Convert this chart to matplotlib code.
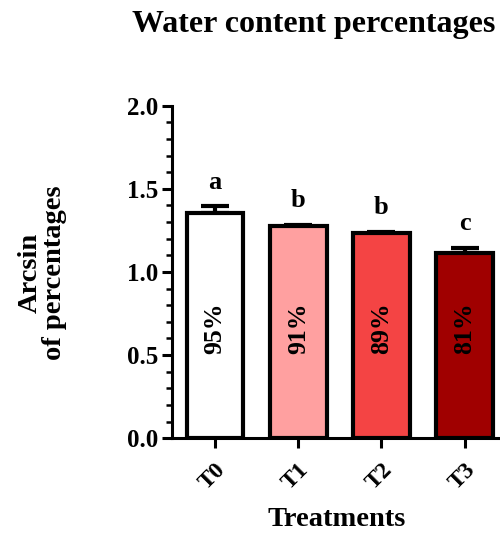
import matplotlib
matplotlib.use("Agg")
import matplotlib.pyplot as plt
from matplotlib.ticker import MultipleLocator, FormatStrFormatter

# values
treatments = ["T0", "T1", "T2", "T3"]
arcsin_means = [1.352, 1.276, 1.232, 1.117]
arcsin_err = [0.044, 0.009, 0.009, 0.030]
pct_labels = ["95%", "91%", "89%", "81%"]
sig_letters = ["a", "b", "b", "c"]
bar_colors = ["#FFFFFF", "#FFA0A0", "#F44444", "#A00000"]

plt.rcParams["font.family"] = ["Liberation Serif", "DejaVu Serif"]
plt.rcParams["font.weight"] = "bold"

fig = plt.figure(figsize=(5.0, 5.35), dpi=100)
ax = fig.add_axes([0.344, 0.181, 0.66, 0.6213])

x = list(range(len(treatments)))
ax.bar(x, arcsin_means, width=0.68, color=bar_colors, edgecolor="black",
       linewidth=3, zorder=2)
ax.errorbar(x, arcsin_means, yerr=[[0] * 4, arcsin_err], fmt="none",
            ecolor="black", elinewidth=3, capsize=10, capthick=3, zorder=1)

for xi, m, e, letter, pct in zip(x, arcsin_means, arcsin_err, sig_letters, pct_labels):
    ax.text(xi, m + e + 0.075, letter, ha="center", va="bottom",
            fontsize=19, fontweight="bold")
    ax.text(xi, 0.66, pct, ha="center", va="center", rotation=90,
            fontsize=18.5, fontweight="bold")

ax.set_xlim(-0.52, 3.45)
ax.set_ylim(0, 2.0)
ax.yaxis.set_major_locator(MultipleLocator(0.5))
ax.yaxis.set_minor_locator(MultipleLocator(0.1))
ax.yaxis.set_major_formatter(FormatStrFormatter("%.1f"))
ax.set_xticks(x)
ax.set_xticklabels(treatments, rotation=45, ha="right", va="top",
                   rotation_mode="anchor", fontsize=17, fontweight="bold")
for lbl in ax.get_yticklabels():
    lbl.set_fontsize(18)
    lbl.set_fontweight("bold")

for side in ["top", "right"]:
    ax.spines[side].set_visible(False)
for side in ["left", "bottom"]:
    ax.spines[side].set_linewidth(2.2)
ax.tick_params(axis="both", which="major", length=7, width=2.2, direction="out")
ax.tick_params(axis="y", which="minor", length=4, width=1.8, direction="out")
ax.tick_params(axis="x", pad=8)
ax.tick_params(axis="y", pad=3)

ax.set_xlabel("Treatments", fontsize=20.5, fontweight="bold", labelpad=10)
fig.text(0.085, 0.49, "Arcsin\nof percentages", rotation=90, ha="center",
         va="center", fontsize=20.5, fontweight="bold", linespacing=0.95)
fig.text(0.628, 0.955, "Water content percentages", ha="center", va="center",
         fontsize=23, fontweight="bold")

fig.savefig("out.png", dpi=100)
